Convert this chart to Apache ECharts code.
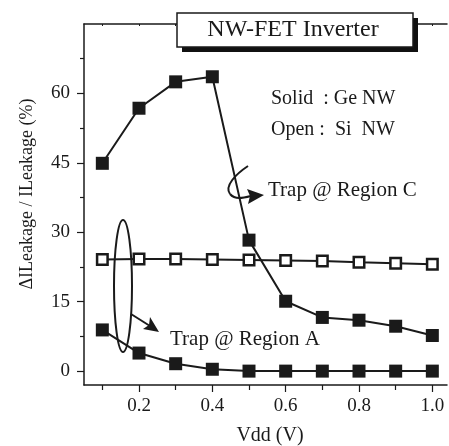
<!DOCTYPE html>
<html>
<head>
<meta charset="utf-8">
<script src="https://cdn.jsdelivr.net/npm/echarts@6/dist/echarts.min.js"></script>
<style>
  html, body { margin: 0; padding: 0; background: #fff; }
  #chart { width: 449px; height: 446px; }
</style>
</head>
<body>
<div id="chart"></div>
<script>
// Supply voltage sweep (V)
const vdd = [0.1, 0.2, 0.3, 0.4, 0.5, 0.6, 0.7, 0.8, 0.9, 1.0];
// Relative leakage change (%) for Ge NW, trap at region C
const geRegionC = [44.9, 56.8, 62.5, 63.6, 28.3, 15.1, 11.6, 11.0, 9.7, 7.7];
// Relative leakage change (%) for Ge NW, trap at region A
const geRegionA = [8.9, 3.9, 1.6, 0.4, 0.0, 0.0, 0.0, 0.0, 0.0, 0.0];
// Relative leakage change (%) for Si NW
const siNW = [24.1, 24.2, 24.2, 24.1, 24.0, 23.9, 23.8, 23.5, 23.3, 23.1];

const xMajorTicks = [0.2, 0.4, 0.6, 0.8, 1.0];
const xMinorTicks = [0.1, 0.3, 0.5, 0.7, 0.9];
const yMajorTicks = [0, 15, 30, 45, 60];
const yMinorTicks = [7.5, 22.5, 37.5, 52.5, 67.5];

const FONT = '"Liberation Serif", "DejaVu Serif", serif';
const INK = '#1a1a1a';

const pairs = arr => vdd.map((v, i) => [v, arr[i]]);

const chart = echarts.init(document.getElementById('chart'), null, { renderer: 'canvas' });

const baseX = {
  type: 'value', min: 0.05, max: 1.04,
  splitLine: { show: false },
  axisLine: { show: true, onZero: false, lineStyle: { color: INK, width: 1.5 } }
};
const baseY = {
  type: 'value', min: -3, max: 75,
  splitLine: { show: false },
  axisLine: { show: true, onZero: false, lineStyle: { color: INK, width: 1.5 } }
};

chart.setOption({
  animation: false,
  backgroundColor: '#fff',
  grid: { left: 84, right: 2, top: 24, bottom: 61 },
  xAxis: [
    Object.assign({}, baseX, {
      position: 'bottom',
      axisTick: { show: true, length: 7, customValues: xMajorTicks, lineStyle: { color: INK, width: 1.2 } },
      axisLabel: {
        show: true, customValues: xMajorTicks, margin: 12,
        formatter: v => v.toFixed(1),
        fontFamily: FONT, fontSize: 19, color: INK
      }
    }),
    Object.assign({}, baseX, {
      position: 'bottom',
      axisLine: { show: false, onZero: false },
      axisTick: { show: true, length: 5, customValues: xMinorTicks, lineStyle: { color: INK, width: 1.2 } },
      axisLabel: { show: false }
    }),
    Object.assign({}, baseX, {
      position: 'top',
      axisTick: { show: true, inside: true, length: 2, customValues: vdd, lineStyle: { color: INK, width: 1 } },
      axisLabel: { show: false }
    })
  ],
  yAxis: [
    Object.assign({}, baseY, {
      position: 'left',
      axisTick: { show: true, length: 7, customValues: yMajorTicks, lineStyle: { color: INK, width: 1.2 } },
      axisLabel: {
        show: true, customValues: yMajorTicks, margin: 14,
        fontFamily: FONT, fontSize: 19, color: INK
      }
    }),
    Object.assign({}, baseY, {
      position: 'left',
      axisLine: { show: false, onZero: false },
      axisTick: { show: true, length: 4, customValues: yMinorTicks, lineStyle: { color: INK, width: 1.2 } },
      axisLabel: { show: false }
    })
  ],
  series: [
    {
      name: 'Ge NW (Region C)', type: 'line', data: pairs(geRegionC),
      xAxisIndex: 0, yAxisIndex: 0,
      symbol: 'rect', symbolSize: 13, showAllSymbol: true,
      lineStyle: { color: INK, width: 2 },
      itemStyle: { color: INK, borderWidth: 0 }, z: 3
    },
    {
      name: 'Ge NW (Region A)', type: 'line', data: pairs(geRegionA),
      xAxisIndex: 0, yAxisIndex: 0,
      symbol: 'rect', symbolSize: 13, showAllSymbol: true,
      lineStyle: { color: INK, width: 2 },
      itemStyle: { color: INK, borderWidth: 0 }, z: 3
    },
    {
      name: 'Si NW', type: 'line', data: pairs(siNW),
      xAxisIndex: 0, yAxisIndex: 0,
      symbol: 'rect', symbolSize: 10.5, showAllSymbol: true,
      lineStyle: { color: INK, width: 2 },
      itemStyle: { color: '#fff', borderColor: INK, borderWidth: 2.5 }, z: 4
    }
  ],
  graphic: [
    // title box with drop shadow
    { type: 'rect', z: 20, shape: { x: 182, y: 18, width: 236, height: 34 }, style: { fill: '#111' } },
    { type: 'rect', z: 21, shape: { x: 177, y: 13, width: 236, height: 34 }, style: { fill: '#fff', stroke: INK, lineWidth: 1.5 } },
    { type: 'text', z: 22, x: 293, y: 30, style: { text: 'NW-FET Inverter', font: '24px ' + FONT, fill: INK, align: 'center', verticalAlign: 'middle' } },
    // legend notes
    { type: 'text', z: 10, x: 271, y: 99, style: { text: 'Solid  : Ge NW', font: '20px ' + FONT, fill: INK, align: 'left', verticalAlign: 'middle' } },
    { type: 'text', z: 10, x: 271, y: 130, style: { text: 'Open :  Si  NW', font: '20px ' + FONT, fill: INK, align: 'left', verticalAlign: 'middle' } },
    // region C annotation: curled arrow
    { type: 'bezierCurve', z: 10, shape: { x1: 248, y1: 166, cpx1: 236, cpy1: 174, cpx2: 224, cpy2: 186, x2: 230, y2: 194 }, style: { fill: null, stroke: INK, lineWidth: 2 } },
    { type: 'bezierCurve', z: 10, shape: { x1: 230, y1: 194, cpx1: 235, cpy1: 200, cpx2: 243, cpy2: 198, x2: 251, y2: 196 }, style: { fill: null, stroke: INK, lineWidth: 2 } },
    { type: 'polygon', z: 10, shape: { points: [[264, 195], [247, 189], [250, 196], [248, 204]] }, style: { fill: INK } },
    { type: 'text', z: 10, x: 268, y: 190, style: { text: 'Trap @ Region C', font: '21px ' + FONT, fill: INK, align: 'left', verticalAlign: 'middle' } },
    // region A annotation: ellipse and arrow
    { type: 'ellipse', z: 10, shape: { cx: 123, cy: 286, rx: 9, ry: 66 }, style: { fill: null, stroke: INK, lineWidth: 2 } },
    { type: 'line', z: 10, shape: { x1: 131, y1: 314, x2: 150, y2: 326 }, style: { stroke: INK, lineWidth: 2 } },
    { type: 'polygon', z: 10, shape: { points: [[159, 332], [143, 329], [149, 325], [150, 317]] }, style: { fill: INK } },
    { type: 'text', z: 10, x: 170, y: 339, style: { text: 'Trap @ Region A', font: '21px ' + FONT, fill: INK, align: 'left', verticalAlign: 'middle' } },
    // axis titles
    { type: 'text', z: 10, x: 27, y: 194, rotation: Math.PI / 2, style: { text: 'ΔILeakage / ILeakage (%)', font: '18px ' + FONT, fill: INK, align: 'center', verticalAlign: 'middle' } },
    { type: 'text', z: 10, x: 270, y: 436, style: { text: 'Vdd (V)', font: '20px ' + FONT, fill: INK, align: 'center', verticalAlign: 'middle' } }
  ]
});
</script>
</body>
</html>
